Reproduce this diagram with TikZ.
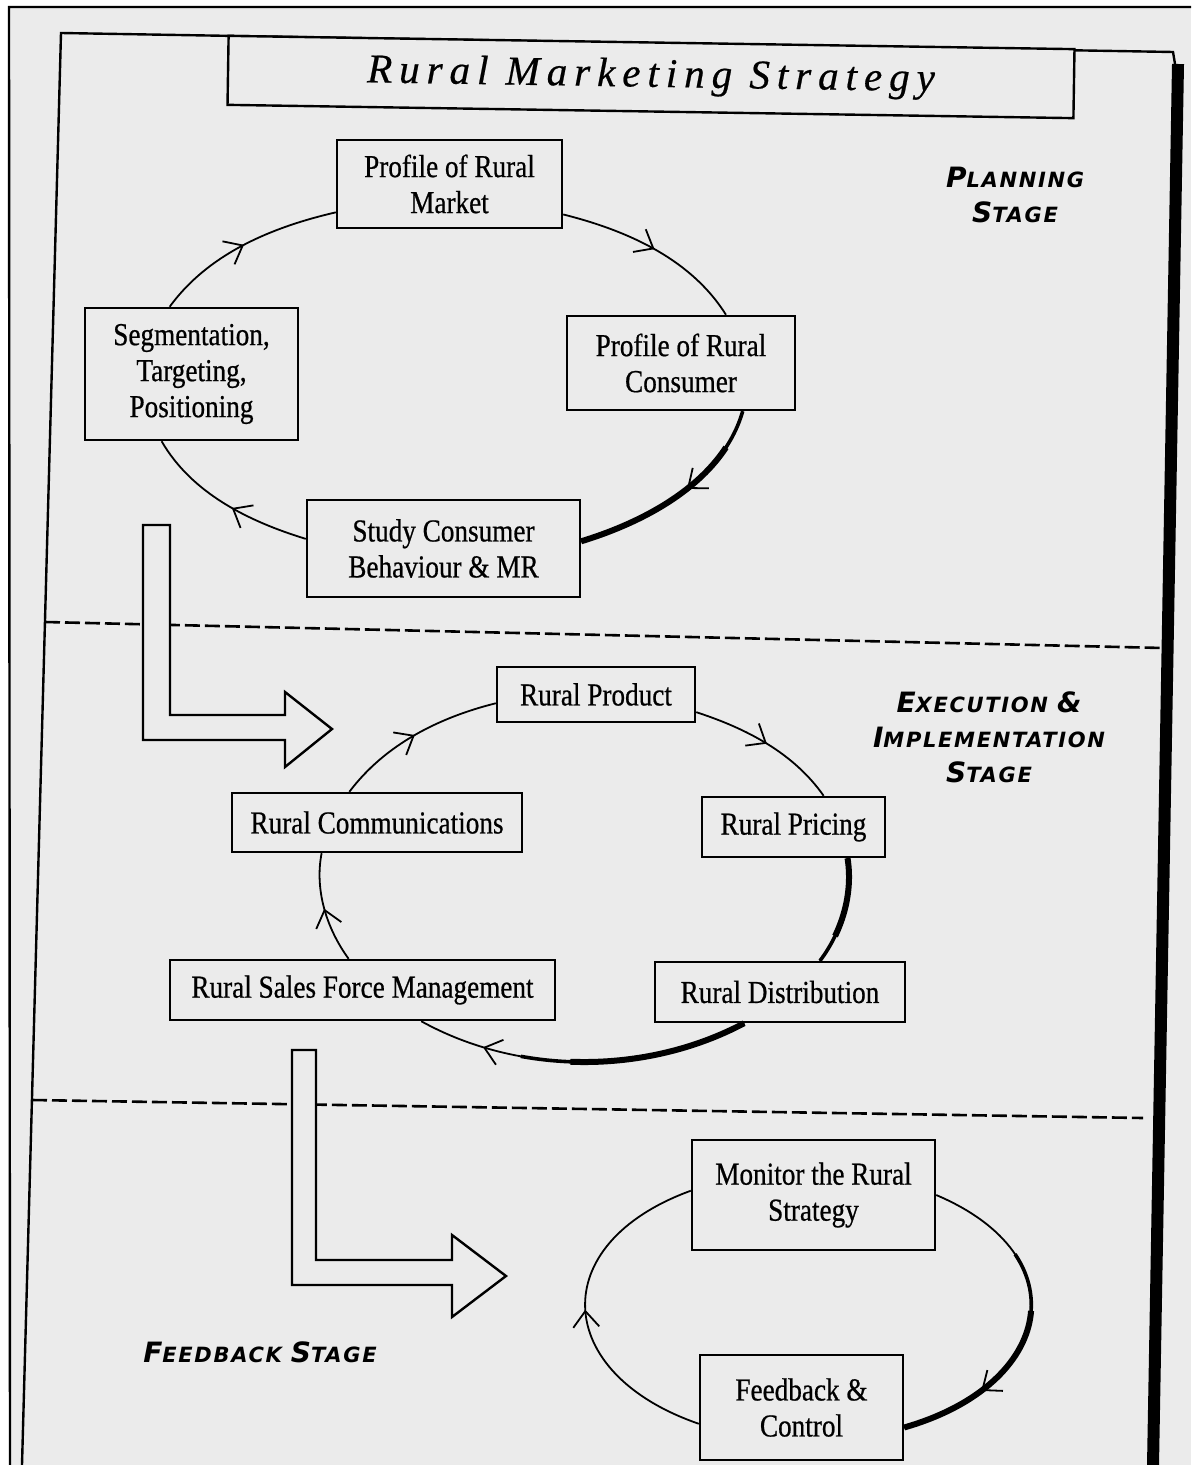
\documentclass[tikz,border=0pt]{standalone}
\usepackage{fontspec}
\setmainfont{Liberation Serif}
\newfontfamily\boxfont{Liberation Serif}[FakeStretch=0.85, FakeBold=0.6]
\newfontfamily\titlefont{Liberation Serif}[LetterSpace=17, FakeBold=0.5]
\newfontfamily\stagefont{DejaVu Sans}[LetterSpace=8]
\usetikzlibrary{arrows.meta,decorations.markings}

\definecolor{paper}{gray}{0.92}
\newcommand{\capword}[2]{{\fontsize{14}{17.5}\selectfont #1}{\fontsize{10.5}{17.5}\selectfont #2}}

\begin{document}
\begin{tikzpicture}[x=0.5pt, y=0.5pt, >={Straight Barb[length=8pt,width=13pt,line width=0.9pt]},
  box node/.style={draw, line width=1.2pt, fill=paper, inner sep=0pt, align=center, font=\boxfont\fontsize{16}{18}\selectfont},
  stage node/.style={align=center, font=\stagefont\bfseries\itshape\fontsize{10.5}{17.5}\selectfont},
  loop line/.style={line width=0.9pt, looseness=0.88},
  mid arrow/.style={postaction={decorate, decoration={markings, mark=at position #1 with {\arrow{>}}}}},
  heavy/.style n args={3}{postaction={draw, line width=#1, dash pattern=on 0pt off #2 on #3 off 3000pt}},
  stage line/.style={line width=1.3pt, dash pattern=on 7.5pt off 2.5pt},
  hollow arrow/.style={draw, line width=1.2pt, fill=paper, line join=miter}]

\useasboundingbox (0,0) rectangle (1191,-1465);
\fill[white] (0,0) rectangle (1191,-1465);
\fill[paper] (9,-7) rectangle (1191,-1465);

% frame
\draw[line width=1.2pt] (10,-1465) -- (9,-7) -- (1191,-7);
\draw[line width=1.2pt] (22,-1465) -- (61,-33) -- (1173,-52) -- (1175,-64);
\draw[line width=6pt] (1178,-64) -- (1153,-1465);

% stage borders
\draw[stage line] (45,-622) -- (1163,-648);
\draw[stage line] (32,-1100) -- (1143,-1118);

% arrows between stages
\draw[hollow arrow] (143,-525) -- (170,-525) -- (170,-715) -- (285,-715) -- (285,-692)
  -- (332,-729) -- (285,-767) -- (285,-740) -- (143,-740) -- cycle;
\draw[hollow arrow] (292,-1050) -- (316,-1050) -- (316,-1260) -- (452,-1260) -- (452,-1235)
  -- (506,-1276) -- (452,-1317) -- (452,-1285) -- (292,-1285) -- cycle;

\node[box node, rotate=-0.9, minimum width=423pt, minimum height=34.5pt,
  font=\titlefont\itshape\fontsize{20.5}{24}\selectfont] (title) at (651,-77) {Rural Marketing Strategy};

% planning stage
\node[box node, minimum width=112.5pt, minimum height=44pt] (mkt) at (449.5,-184) {Profile of Rural\\Market};
\node[box node, minimum width=106.5pt, minimum height=66pt] (seg) at (191.5,-374) {Segmentation,\\Targeting,\\Positioning};
\node[box node, minimum width=114pt, minimum height=47pt] (con) at (681,-363) {Profile of Rural\\Consumer};
\node[box node, minimum width=136.5pt, minimum height=48.5pt] (stu) [below of=mkt, node distance=182.25pt, xshift=-3pt] {Study Consumer\\Behaviour \& MR};

% execution stage
\node[box node, minimum width=99pt, minimum height=27.5pt] (prod) at (596,-694.5) {Rural Product};
\node[box node, minimum width=145pt, minimum height=29.5pt] (comm) at (377,-822.5) {Rural Communications};
\node[box node, minimum width=91.5pt, minimum height=30pt] (pric) at (793.5,-827) {Rural Pricing};
\node[box node, minimum width=192.5pt, minimum height=30pt] (sales) [below of=comm, node distance=83.75pt, xshift=-7.25pt] {Rural Sales Force Management};
\node[box node, minimum width=125pt, minimum height=30pt] (dist) [below of=pric, node distance=82.5pt, xshift=-6.75pt] {Rural Distribution};

% feedback stage
\node[box node, minimum width=121.5pt, minimum height=55pt] (mon) at (813.5,-1195) {Monitor the Rural\\Strategy};
\node[box node, minimum width=101.5pt, minimum height=52.5pt] (fb) [below of=mon, node distance=106.25pt, xshift=-6pt] {Feedback \&\\Control};

\node[stage node] (plan) at (1015,-195) {\capword{P}{LANNING}\\\capword{S}{TAGE}};
\node[stage node] (exec) at (989,-737) {\capword{E}{XECUTION} {\fontsize{14}{17.5}\selectfont\&}\\\capword{I}{MPLEMENTATION}\\\capword{S}{TAGE}};
\node[stage node] (feed) at (260,-1352) {\capword{F}{EEDBACK} \capword{S}{TAGE}};

\draw[loop line, mid arrow=0.5] (mkt.-15) to[out=-14, in=122] (con.47);
\draw[loop line, heavy={1.8pt}{0pt}{300pt}, heavy={3pt}{20pt}{300pt}, mid arrow=0.45] (con.-38) to[out=-106, in=17] (stu.3);
\draw[loop line, mid arrow=0.45] (stu.176) to[out=163, in=-60] (seg.246);
\draw[loop line, mid arrow=0.5] (seg.108) to[out=54, in=193] (mkt.194);

\draw[loop line, mid arrow=0.5] (prod.-10) to[out=-18, in=125] (pric.46);
\draw[loop line, heavy={1.8pt}{0pt}{200pt}, heavy={3pt}{0pt}{40pt}] (pric.-30) to[out=-81, in=53] (dist.38);
\draw[loop line, heavy={1.8pt}{0pt}{115pt}, heavy={3pt}{0pt}{90pt}, mid arrow=0.8] (dist.221) to[out=208, in=-29] (sales.-28);
\draw[loop line, mid arrow=0.5] (sales.114) to[out=126, in=-101] (comm.209);
\draw[loop line, mid arrow=0.5] (comm.132) to[out=53, in=194] (prod.185);

\draw[loop line, looseness=1.7, heavy={1.8pt}{50pt}{300pt}, heavy={3pt}{80pt}{300pt}, mid arrow=0.75] (mon.0) to[out=-23, in=16] (fb.-11);
\draw[loop line, looseness=1.7, mid arrow=0.5] (fb.189) to[out=161, in=200] (mon.178);

\end{tikzpicture}
\end{document}
